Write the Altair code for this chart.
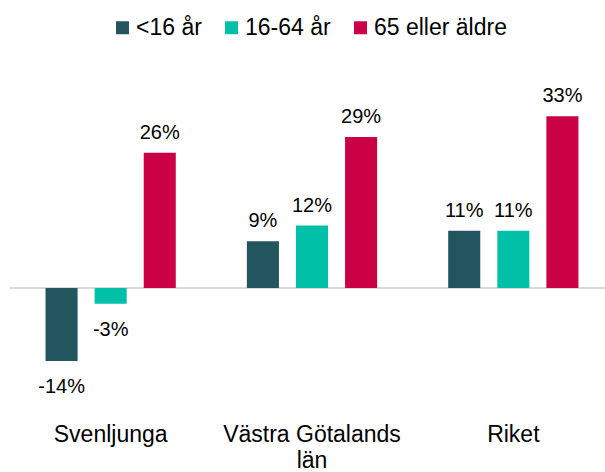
import altair as alt
import pandas as pd

categories = ["Svenljunga", "Västra Götalands län", "Riket"]
groups = ["<16 år", "16-64 år", "65 eller äldre"]
values = {
    "<16 år": [-14, 9, 11],
    "16-64 år": [-3, 12, 11],
    "65 eller äldre": [26, 29, 33],
}
colors = ["#22555d", "#00c1a8", "#cc0044"]

rows = []
for g in groups:
    for c, v in zip(categories, values[g]):
        rows.append({"kategori": c, "grupp": g, "varde": v, "etikett": f"{v}%"})
df = pd.DataFrame(rows)

FONT = "Arial, Liberation Sans, sans-serif"
YDOM = [-21.5, 43.8]
W = 595

x = alt.X(
    "kategori:N",
    sort=categories,
    scale=alt.Scale(paddingInner=0, paddingOuter=0, range=[0, 604]),
    axis=alt.Axis(
        title=None, domain=False, ticks=False, labelAngle=0,
        labelFont=FONT, labelFontSize=23, labelColor="#000000",
        labelPadding=23, labelBaseline="top", labelLineHeight=26,
        labelExpr="datum.label == 'Västra Götalands län' ? ['Västra Götalands', 'län'] : datum.label",
    ),
)
xoff = alt.XOffset(
    "grupp:N", sort=groups,
    scale=alt.Scale(paddingInner=0.347, paddingOuter=0.724),
)
y = alt.Y(
    "varde:Q",
    scale=alt.Scale(domain=YDOM, nice=False, zero=False),
    axis=None,
)

base = alt.Chart(df)

bars = base.mark_bar().encode(
    x=x, xOffset=xoff, y=y, y2=alt.datum(0),
    color=alt.Color(
        "grupp:N", sort=groups,
        scale=alt.Scale(domain=groups, range=colors),
        legend=alt.Legend(
            title=None, orient="none", direction="horizontal",
            legendX=101, legendY=-44,
            symbolType="square", symbolSize=169, symbolStrokeWidth=0,
            labelFont=FONT, labelFontSize=23, labelColor="#000000",
            labelOffset=2, columnPadding=18,
        ),
    ),
)

zero = alt.Chart(pd.DataFrame({"z": [0]})).mark_rule(color="#d9d9d9", strokeWidth=2).encode(
    y=alt.Y("z:Q", scale=alt.Scale(domain=YDOM, nice=False, zero=False), axis=None),
    x=alt.value(0), x2=alt.value(W),
)

pos_labels = base.transform_filter("datum.varde >= 0").mark_text(
    baseline="bottom", dy=-10, font=FONT, fontSize=20, color="#000000"
).encode(x=x, xOffset=xoff, y=y, text="etikett:N")

neg_labels = base.transform_filter("datum.varde < 0").mark_text(
    baseline="top", dy=16, font=FONT, fontSize=20, color="#000000"
).encode(x=x, xOffset=xoff, y=y, text="etikett:N")

chart = alt.layer(zero, bars, pos_labels, neg_labels).properties(
    width=W, height=340,
    autosize=alt.AutoSizeParams(type="none"),
    padding={"left": 10, "top": 60, "right": 0, "bottom": 72},
).configure_view(stroke=None)

chart.save("out.html", embed_options={"renderer": "svg", "actions": False})
